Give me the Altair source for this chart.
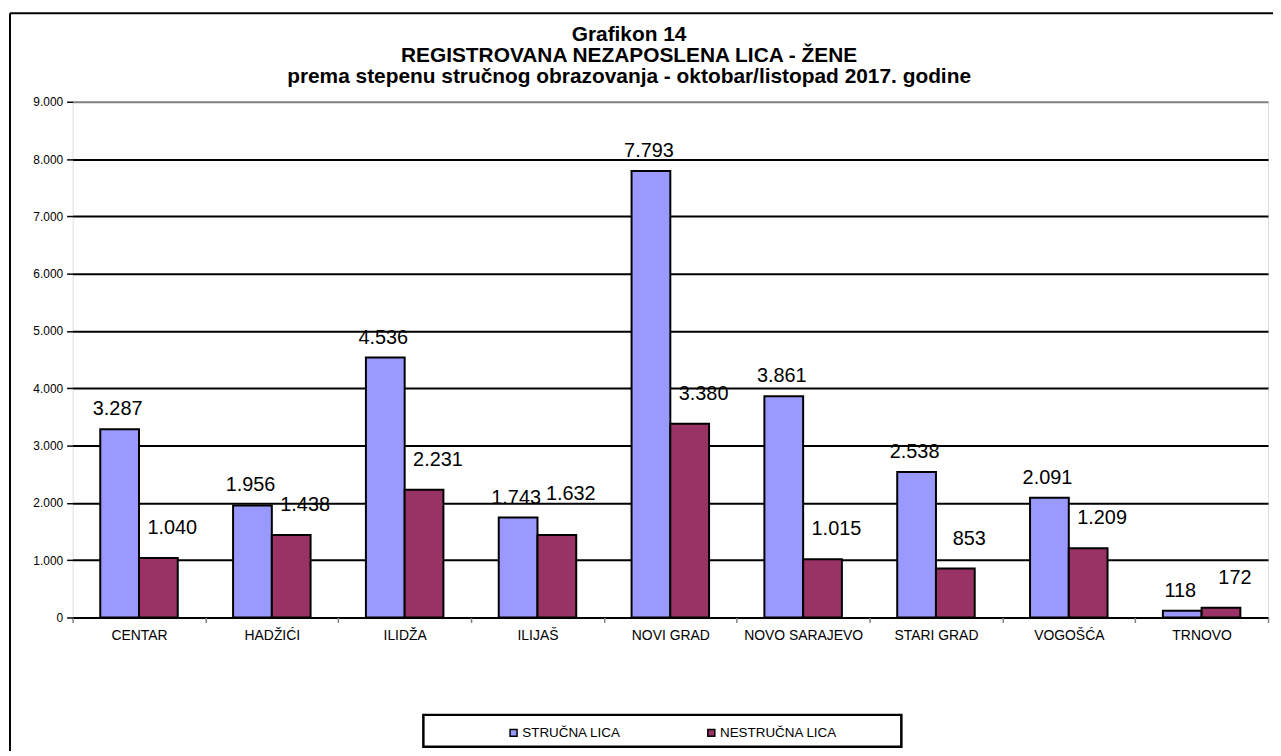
import altair as alt
import pandas as pd

categories = ["CENTAR", "HADŽIĆI", "ILIDŽA", "ILIJAŠ", "NOVI GRAD",
              "NOVO SARAJEVO", "STARI GRAD", "VOGOŠĆA", "TRNOVO"]
series = ["STRUČNA LICA", "NESTRUČNA LICA"]
strucna = [3287, 1956, 4536, 1743, 7793, 3861, 2538, 2091, 118]
nestrucna = [1040, 1438, 2231, 1438, 3380, 1015, 853, 1209, 172]
# values printed as data labels in the reference
strucna_labels = [3287, 1956, 4536, 1743, 7793, 3861, 2538, 2091, 118]
nestrucna_labels = [1040, 1438, 2231, 1632, 3380, 1015, 853, 1209, 172]
y_ticks = [0, 1000, 2000, 3000, 4000, 5000, 6000, 7000, 8000, 9000]
title_lines = ["Grafikon 14",
               "REGISTROVANA NEZAPOSLENA LICA - ŽENE",
               "prema stepenu stručnog obrazovanja - oktobar/listopad 2017. godine"]
colors = ["#9999FF", "#993366"]


def fmt(v):
    return f"{v:,}".replace(",", ".")


rows = []
for c, a, b, la, lb in zip(categories, strucna, nestrucna, strucna_labels, nestrucna_labels):
    rows.append({"kat": c, "serija": series[0], "v": a, "lv": la, "lab": fmt(la)})
    rows.append({"kat": c, "serija": series[1], "v": b, "lv": lb, "lab": fmt(lb)})
df = pd.DataFrame(rows)

FONT = "Liberation Sans, Arial, sans-serif"

x_enc = alt.X("kat:N", sort=categories, title=None,
              scale=alt.Scale(paddingInner=0, paddingOuter=0),
              axis=alt.Axis(labelAngle=0, tickBand="extent", domain=False,
                            ticks=True, tickColor="#808080", tickSize=5, tickWidth=1.5,
                            labelFontSize=14, labelFont=FONT, labelColor="black",
                            labelPadding=6, grid=False))
xo_enc = alt.XOffset("serija:N", sort=series,
                     scale=alt.Scale(paddingOuter=0.714, paddingInner=0))

base = alt.Chart(df)

bars = base.mark_bar(stroke="black", strokeWidth=2).encode(
    x=x_enc,
    xOffset=xo_enc,
    y=alt.Y("v:Q", title=None,
            scale=alt.Scale(domain=[0, 9000], nice=False),
            axis=alt.Axis(values=y_ticks, domain=False,
                          labelExpr="replace(format(datum.value, ','), ',', '.')",
                          labelFontSize=12, labelFont=FONT, labelColor="black",
                          labelPadding=4, tickColor="black", tickSize=6, tickWidth=1.5,
                          gridColor={"condition": {"test": "datum.value === 9000",
                                                   "value": "#808080"},
                                     "value": "black"},
                          gridWidth=2)),
    color=alt.Color("serija:N", sort=series,
                    scale=alt.Scale(domain=series, range=colors),
                    legend=alt.Legend(title=None, orient="none", direction="horizontal",
                                      legendX=437, legendY=628,
                                      symbolType="square", symbolSize=49,
                                      symbolStrokeColor="black", symbolStrokeWidth=1.5,
                                      labelFontSize=13.5, labelFont=FONT, labelColor="black",
                                      labelOffset=2, columnPadding=84, padding=0)),
)

text_s = base.transform_filter(alt.datum.serija == series[0]).mark_text(
    fontSize=20, font=FONT, color="black", baseline="middle", dx=-2, dy=-20
).encode(x=alt.X("kat:N", sort=categories), xOffset=xo_enc, y="lv:Q", text="lab:N")

text_n = base.transform_filter(alt.datum.serija == series[1]).mark_text(
    fontSize=20, font=FONT, color="black", baseline="middle", dx=14, dy=-30
).encode(x=alt.X("kat:N", sort=categories), xOffset=xo_enc, y="lv:Q", text="lab:N")

one = alt.Data(values=[{"k": 1}])
frame_left = alt.Chart(one).mark_rule(color="black", strokeWidth=2).encode(
    x=alt.value(-63), y=alt.value(-89), y2=alt.value(720))
frame_top = alt.Chart(one).mark_rule(color="black", strokeWidth=2).encode(
    x=alt.value(-63), x2=alt.value(1300), y=alt.value(-89))
legend_box = alt.Chart(one).mark_rect(fill="white", stroke="black", strokeWidth=2.5).encode(
    x=alt.value(353), x2=alt.value(834), y=alt.value(617), y2=alt.value(649))
title_txt = alt.Chart(one).mark_text(
    font=FONT, fontSize=21, fontWeight="bold", color="black", align="center",
    baseline="alphabetic", lineHeight=21
).encode(x=alt.value(560), y=alt.value(-61), text=alt.value(title_lines))

chart = alt.layer(frame_left, frame_top, legend_box, title_txt, bars, text_s, text_n).properties(
    width=1203, height=519,
    autosize=alt.AutoSizeParams(type="none"),
    padding={"left": 65, "top": 92, "right": 5, "bottom": 132},
).configure_view(stroke="#808080", strokeWidth=2).configure(background="white")

chart.save("out.html", embed_options={"renderer": "svg", "actions": False})
